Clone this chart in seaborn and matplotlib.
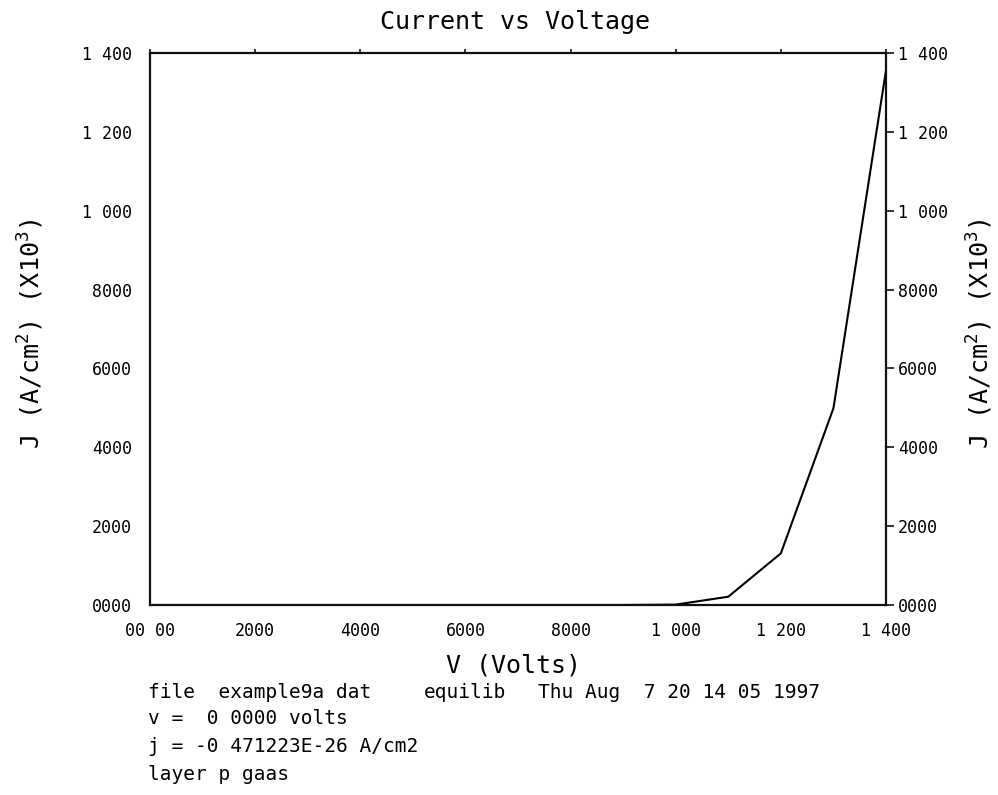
import matplotlib
matplotlib.use("Agg")
import matplotlib.pyplot as plt
import matplotlib.transforms as mtransforms
import seaborn as sns
import pandas as pd

# Voltage sweep and current density (x10^3 A/cm^2)
voltage = [0.0, 0.1, 0.2, 0.3, 0.4, 0.5, 0.6, 0.7, 0.8, 0.9, 1.0, 1.1, 1.2, 1.3, 1.4]
current = [0.0, 0.0, 0.0, 0.0, 0.0, 0.0, 0.0, 0.0, 0.0, 0.0, 0.001, 0.021, 0.131, 0.499, 1.356]

x_ticks = [0.0, 0.2, 0.4, 0.6, 0.8, 1.0, 1.2, 1.4]
x_tick_labels = ["00 00", "2000", "4000", "6000", "8000", "1 000", "1 200", "1 400"]
y_ticks = [0.0, 0.2, 0.4, 0.6, 0.8, 1.0, 1.2, 1.4]
y_tick_labels = ["0000", "2000", "4000", "6000", "8000", "1 000", "1 200", "1 400"]

title = "Current vs Voltage"
x_label = "V (Volts)"
y_label = r"J (A/cm$^2$) (X10$^3$)"
footer_file = "file  example9a dat"
footer_mode = "equilib"
footer_date = "Thu Aug  7 20 14 05 1997"
footer_v = "v =  0 0000 volts"
footer_j = "j = -0 471223E-26 A/cm2"
footer_layer = "layer p gaas"

sns.set_style("white")
plt.rcParams["font.family"] = ["DejaVu Sans Mono", "DejaVu Sans"]
plt.rcParams["mathtext.fontset"] = "custom"
plt.rcParams["mathtext.rm"] = "DejaVu Sans Mono"
plt.rcParams["mathtext.it"] = "DejaVu Sans Mono"
plt.rcParams["mathtext.bf"] = "DejaVu Sans Mono"
plt.rcParams["text.color"] = "black"
plt.rcParams["xtick.color"] = "black"
plt.rcParams["ytick.color"] = "black"

df = pd.DataFrame({"V": voltage, "J": current})

W, H = 998, 795
fig = plt.figure(figsize=(W / 100, H / 100), dpi=100)
ax = fig.add_axes([150 / W, 1 - 605 / H, 736 / W, 552 / H])

sns.lineplot(data=df, x="V", y="J", ax=ax, color="black", linewidth=1.5)

ax.set_xlim(0, 1.4)
ax.set_ylim(0, 1.4)
for s in ax.spines.values():
    s.set_linewidth(1.6)
    s.set_color("#111111")

ax.set_xticks(x_ticks)
ax.set_xticklabels(x_tick_labels, fontsize=12)
ax.set_yticks(y_ticks)
ax.set_yticklabels(y_tick_labels, fontsize=12)
ax.tick_params(axis="x", direction="out", length=5.5, width=1.2, color="#111111",
               labelcolor="black", pad=6.5, top=True, labeltop=False)
ax.tick_params(axis="y", direction="out", length=6, width=1.2, color="#111111",
               labelcolor="black", pad=7, right=True, labelright=True)
for t in ax.xaxis.get_major_ticks():
    t.tick2line.set_markersize(3)

# pull the right-hand tick labels a little closer to the frame
shift_left = mtransforms.ScaledTranslation(-6 / 100, 0, fig.dpi_scale_trans)
for t in ax.yaxis.get_major_ticks():
    t.label2.set_transform(t.label2.get_transform() + shift_left)

ax.set_xlabel("")
ax.set_ylabel("")

fig.text(515 / W, 1 - 22 / H, title, ha="center", va="center", fontsize=18)
fig.text(513 / W, 1 - 666 / H, x_label, ha="center", va="center", fontsize=18)
fig.text(31 / W, 1 - 334 / H, y_label, ha="center", va="center", rotation=90, fontsize=18)
fig.text(980 / W, 1 - 334 / H, y_label, ha="center", va="center", rotation=90, fontsize=18)

ftxt = dict(ha="left", va="center", fontsize=14)
fig.text(148 / W, 1 - 692 / H, footer_file, **ftxt)
fig.text(424 / W, 1 - 692 / H, footer_mode, **ftxt)
fig.text(538 / W, 1 - 692 / H, footer_date, **ftxt)
fig.text(148 / W, 1 - 719 / H, footer_v, **ftxt)
fig.text(148 / W, 1 - 746 / H, footer_j, **ftxt)
fig.text(148 / W, 1 - 775 / H, footer_layer, **ftxt)

fig.savefig("out.png", dpi=100, facecolor="white")
